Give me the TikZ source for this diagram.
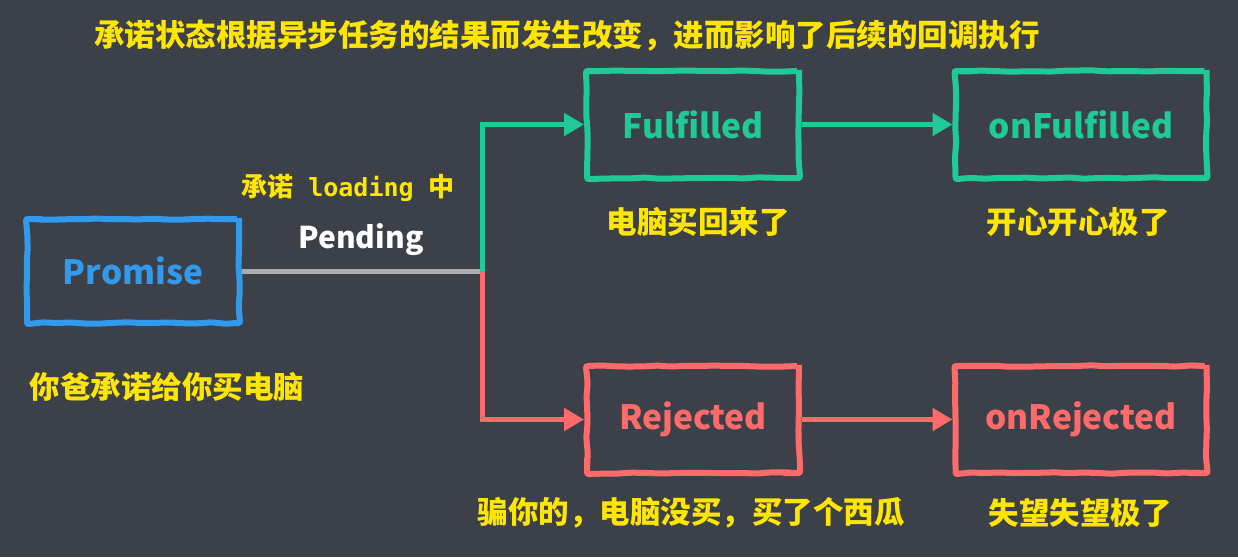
\documentclass[tikz,border=0pt]{standalone}
\usepackage{fontspec}
\usetikzlibrary{arrows.meta,decorations.pathmorphing}
\newfontfamily\cjk{Noto Sans CJK SC}
\newfontfamily\monof{DejaVu Sans Mono}
\definecolor{bg}{HTML}{3C4049}
\definecolor{pblue}{HTML}{3399EA}
\definecolor{pgreen}{HTML}{20C997}
\definecolor{pred}{HTML}{FF6B6B}
\definecolor{pgray}{HTML}{A9ADB1}
\definecolor{pyellow}{HTML}{FFE600}
\begin{document}
\pgfmathsetseed{7}
\begin{tikzpicture}[x=1pt,y=-1pt,
  box/.style={draw,line width=6pt,rounded corners=2pt,inner sep=0pt,
    minimum height=107pt,
    decorate,decoration={random steps,segment length=14pt,amplitude=0.7pt},
    font=\cjk\bfseries\fontsize{33.5}{33.5}\selectfont},
  note/.style={text=pyellow,inner sep=0pt,font=\cjk\bfseries\fontsize{30.5}{30.5}\selectfont},
  conn/.style={line width=5pt},
  arr/.style={line width=5pt,-{Triangle[length=20pt,width=22pt]}}]
\fill[bg] (0,0) rectangle (1238,557);
\useasboundingbox (0,0) rectangle (1238,557);

\node[box,draw=pblue,text=pblue,minimum width=212pt,minimum height=104pt] (promise) at (133,271) {Promise};
\node[box,draw=pgreen,text=pgreen,minimum width=212pt] (ful) at (693,124.5) {Fulfilled};
\node[box,draw=pgreen,text=pgreen,minimum width=251pt] (onful) at (1081,124.5) {onFulfilled};
\node[box,draw=pred,text=pred,minimum width=212pt] (rej) at (693,419.5) {Rejected};
\node[box,draw=pred,text=pred,minimum width=251pt] (onrej) at (1081,419.5) {onRejected};

\coordinate (j) at (482,271);
\draw[conn,pgray] (promise.east) -- (j);
\draw[arr,pgreen] (j) |- (ful.west);
\draw[arr,pred] (j) |- (rej.west);
\draw[arr,pgreen] (ful.east) -- (onful.west);
\draw[arr,pred] (rej.east) -- (onrej.west);

\node[note] (title) at (567,36) {承诺状态根据异步任务的结果而发生改变，进而影响了后续的回调执行};
\node[note,font=\cjk\bfseries\fontsize{26}{26}\selectfont] (loading) at (348,188) {承诺{\monof\fontsize{25}{25}\selectfont\ loading\ }中};
\node[text=white,inner sep=0pt,font=\cjk\bfseries\fontsize{30}{30}\selectfont] (pending) at (361,240) {Pending};
\node[note] (n1) at (167,387) {你爸承诺给你买电脑};
\node[note] (n2) at (698,222) {电脑买回来了};
\node[note] (n3) at (1078,222) {开心开心极了};
\node[note] (n4) at (691,513) {骗你的，电脑没买，买了个西瓜};
\node[note] (n5) at (1080,513) {失望失望极了};
\end{tikzpicture}
\end{document}
